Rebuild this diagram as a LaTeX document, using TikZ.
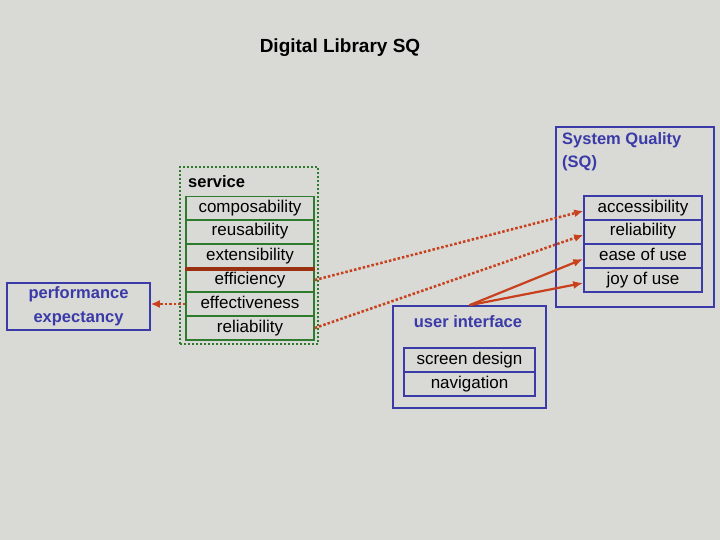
\documentclass[tikz,border=0pt]{standalone}
\usepackage{fontspec}
\setmainfont{Liberation Sans}
\usetikzlibrary{arrows.meta}
\definecolor{bg}{HTML}{D9D9D6}
\definecolor{bl}{HTML}{3A3AA8}
\definecolor{gr}{HTML}{2E7A2E}
\definecolor{rd}{HTML}{C8401C}
\definecolor{br}{HTML}{9A3010}
\begin{document}
\begin{tikzpicture}[x=1pt,y=-1pt,
  cell/.style={line width=1.6pt,minimum height=24pt,inner sep=0pt,text height=12pt,text depth=4pt,font=\fontsize{17}{20}\selectfont},
  cellg/.style={cell,draw=gr,minimum width=128pt},
  cellb/.style={cell,draw=bl,minimum width=118pt},
  cellu/.style={cell,draw=bl,minimum width=131pt},
  lbl/.style={font=\bfseries\fontsize{16.5}{23}\selectfont,text=bl,align=left,inner sep=0pt},
  dots/.style={rd,line width=2.5pt,dotted,-{Latex[length=9pt,width=8pt]}},
  sol/.style={rd,line width=2.2pt,-{Latex[length=10pt,width=8pt]}}]
\fill[bg] (0,0) rectangle (720,540);
\useasboundingbox (0,0) rectangle (720,540);
\node[font=\bfseries\fontsize{19}{22}\selectfont] (title) at (340,48) {Digital Library SQ};
% performance
\node[draw=bl,line width=1.6pt,minimum width=143pt,minimum height=47pt,font=\bfseries\fontsize{16.5}{24}\selectfont,text=bl,align=center,inner sep=0pt] (perf) at (78.5,306.5) {performance\\expectancy};
% service
\node[draw=gr,line width=2pt,dotted,minimum width=138pt,minimum height=177pt] (svc) at (249,255.5) {};
\node[lbl,text=black,anchor=west] (svct) at (188,182) {service};
\node[cellg] (c1) at (250,208.5) {composability};
\node[cellg] (c2) at (250,232) {reusability};
\node[cellg] (c3) at (250,256) {extensibility};
\node[cellg] (c4) at (250,280) {efficiency};
\node[cellg] (c5) at (250,304) {effectiveness};
\node[cellg] (c6) at (250,328) {reliability};
\draw[br,line width=4.5pt] (c3.south west) -- (c3.south east);
% SQ
\node[draw=bl,line width=1.6pt,minimum width=158pt,minimum height=180pt] (sq) at (635,217) {};
\node[lbl,anchor=north west] (sqt) at (562,132) {System Quality\\(SQ)};
\node[cellb] (s1) at (643,208) {accessibility};
\node[cellb] (s2) at (643,232) {reliability};
\node[cellb] (s3) at (643,256) {ease of use};
\node[cellb] (s4) at (643,280) {joy of use};
% UI
\node[draw=bl,line width=1.6pt,minimum width=153pt,minimum height=102pt] (ui) at (469.5,357) {};
\node[lbl] (uit) at (468,322) {user interface};
\node[cellu] (u1) at (469.5,360) {screen design};
\node[cellu] (u2) at (469.5,384) {navigation};
% arrows
\draw[dots] (c5.west) -- (c5.west -| perf.east);
\draw[dots] (c4.east) -- ([yshift=-3pt]s1.west);
\draw[dots] (c6.east) -- ([yshift=-3pt]s2.west);
\draw[sol] (ui.north) -- ([yshift=-3pt]s3.west);
\draw[sol] (ui.north) -- ([yshift=-3pt]s4.west);
\end{tikzpicture}
\end{document}
